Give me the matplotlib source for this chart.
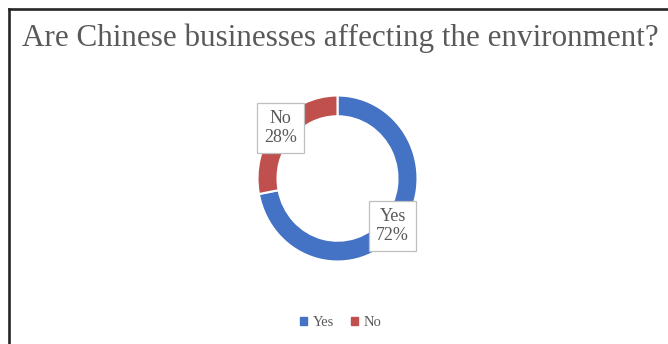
import matplotlib.pyplot as plt
from matplotlib.lines import Line2D

answers = ["Yes", "No"]
shares = [72, 28]
colors = ["#4472C4", "#C0504D"]
title = "Are Chinese businesses affecting the environment?"

W, H = 668, 344
fig = plt.figure(figsize=(W / 100, H / 100), dpi=100)
fig.patch.set_facecolor("white")

# frame line along top and left edge
fig.add_artist(Line2D([9 / W, 9 / W], [0, 1 - 9 / H], color="#262626", lw=1.9))
fig.add_artist(Line2D([9 / W, 1], [1 - 9 / H, 1 - 9 / H], color="#262626", lw=1.9))

fig.text(22 / W, 1 - 46 / H, title, family="Liberation Serif", fontsize=22.4,
         color="#595959", ha="left", va="baseline")

# donut, radius 1 maps to ~80 px across, ~83 px down
cx, cy, rx, ry = 337.5, 178.5, 80, 83
ax = fig.add_axes([(cx - rx) / W, 1 - (cy + ry) / H, 2 * rx / W, 2 * ry / H])
wedges, _ = ax.pie(shares, colors=colors, startangle=90, counterclock=False,
                   radius=1, wedgeprops=dict(width=0.25, edgecolor="white", linewidth=1.5))
ax.set_xlim(-1, 1)
ax.set_ylim(-1, 1)
ax.set_aspect("auto")
ax.axis("off")

label_pos = {"Yes": (0.69, -0.57), "No": (-0.71, 0.61)}
for name, val in zip(answers, shares):
    x, y = label_pos[name]
    ax.text(x, y, f"{name}\n{val}%", family="Liberation Serif", fontsize=13,
            color="#595959", ha="center", va="center", linespacing=1.2,
            bbox=dict(boxstyle="square,pad=0.38", fc="white", ec="#BFBFBF", lw=0.9),
            clip_on=False)

handles = [plt.Rectangle((0, 0), 1, 1, color=c) for c in colors]
fig.legend(handles, answers, loc="center", bbox_to_anchor=(341 / W, 1 - 323 / H),
           ncol=2, frameon=False, handlelength=0.45, handleheight=0.45,
           handletextpad=0.4, columnspacing=1.2,
           prop=dict(family="Liberation Serif", size=10.5), labelcolor="#595959")

fig.savefig("out.png", dpi=100)
